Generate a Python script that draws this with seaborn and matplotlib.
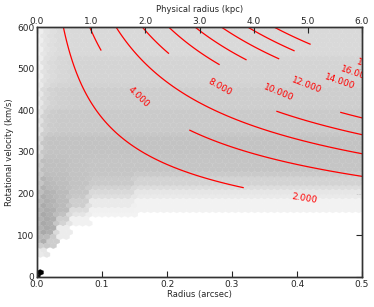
import numpy as np
import matplotlib
matplotlib.use('Agg')
import matplotlib.pyplot as plt
import seaborn as sns

# velocity bands (km/s) and radius bands (arcsec) used for the density map
vel_edges = [0, 15, 55, 75, 100, 125, 150, 165, 190, 215, 245, 290, 340, 400, 460, 530, 601]
rad_edges = [0.0, 0.005, 0.015, 0.03, 0.05, 0.08, 0.15, 0.501]

nan = np.nan
# grey level (0 = white, 1 = black) per velocity band, one list per radius band
shade_r0 = [1.0, nan, 0.15, 0.36, 0.38, 0.38, 0.38, 0.36, 0.34, 0.30, 0.28, 0.20, 0.15, 0.12, 0.10, 0.10]
shade_r1 = [nan, nan, 0.18, 0.42, 0.44, 0.44, 0.44, 0.43, 0.42, 0.40, 0.37, 0.33, 0.28, 0.24, 0.20, 0.18]
shade_r2 = [nan, nan, nan, 0.30, 0.42, 0.42, 0.42, 0.41, 0.40, 0.38, 0.36, 0.35, 0.31, 0.28, 0.24, 0.22]
shade_r3 = [nan, nan, nan, nan, 0.15, 0.30, 0.38, 0.38, 0.38, 0.37, 0.36, 0.35, 0.32, 0.29, 0.26, 0.24]
shade_r4 = [nan, nan, nan, nan, nan, 0.12, 0.22, 0.30, 0.34, 0.35, 0.35, 0.35, 0.32, 0.30, 0.27, 0.25]
shade_r5 = [nan, nan, nan, nan, nan, nan, 0.10, 0.16, 0.25, 0.32, 0.34, 0.35, 0.32, 0.30, 0.27, 0.25]
shade_r6 = [nan, nan, nan, nan, nan, nan, nan, 0.11, 0.18, 0.28, 0.34, 0.35, 0.32, 0.30, 0.27, 0.25]
shades = [shade_r0, shade_r1, shade_r2, shade_r3, shade_r4, shade_r5, shade_r6]

# enclosed-mass contours: label value per unit of v^2 r
mass_levels = [2, 4, 6, 8, 10, 12, 14, 16, 18]
mass_unit = 7290.0  # (km/s)^2 arcsec per contour unit
labelled_levels = [2, 4, 8, 10, 12, 14, 16, 18]
label_radius = [0.412, 0.156, 0.281, 0.371, 0.414, 0.466, 0.49, 0.515]

kpc_per_arcsec = 12.0

sns.set_style('white')
plt.rcParams['font.family'] = ['DejaVu Sans']

# sample the density bands on a fine grid and let hexbin average them
rr, vv = np.meshgrid(np.arange(0, 0.5, 0.002), np.arange(0, 600, 3.0))
rr, vv = rr.ravel(), vv.ravel()
ri = np.digitize(rr, rad_edges) - 1
vi = np.digitize(vv, vel_edges) - 1
table = np.array(shades)
cval = table[ri, vi]
keep = ~np.isnan(cval)

fig = plt.figure(figsize=(3.74, 3.07), dpi=100)
ax = fig.add_axes([0.099, 0.098, 0.869, 0.814])
ax.hexbin(rr[keep], vv[keep], C=cval[keep], reduce_C_function=np.mean,
          gridsize=50, extent=(0, 0.5, 0, 600), cmap='Greys', vmin=0, vmax=1,
          linewidths=0.2, edgecolors='face')

gr, gv = np.meshgrid(np.linspace(0.001, 0.56, 400), np.linspace(0, 660, 400))
mass = gv ** 2 * gr / mass_unit
cs = ax.contour(gr, gv, mass, levels=mass_levels, colors='red', linewidths=0.9)
pos = [(r, np.sqrt(l * mass_unit / r)) for l, r in zip(labelled_levels, label_radius)]
txts = ax.clabel(cs, fmt='%.3f', fontsize=6.5,
                 inline=True, inline_spacing=40, manual=pos)
for t in txts:
    t.set_clip_on(True)

ax.set_xlim(0, 0.5)
ax.set_ylim(0, 600)
ax.set_xticks(np.arange(0, 0.51, 0.1))
ax.set_yticks(np.arange(0, 601, 100))
ax.xaxis.set_major_formatter(matplotlib.ticker.FormatStrFormatter('%.1f'))
ax.set_xlabel('Radius (arcsec)', fontsize=6, labelpad=1)
ax.set_ylabel('Rotational velocity (km/s)', fontsize=6, labelpad=2)
ax.tick_params(direction='in', length=4, width=0.8, labelsize=6.5, pad=2,
               right=True, top=False)

ax2 = ax.twiny()
ax2.set_xlim(0, 0.5 * kpc_per_arcsec)
ax2.set_xticks(np.arange(0, 6.1, 1.0))
ax2.xaxis.set_major_formatter(matplotlib.ticker.FormatStrFormatter('%.1f'))
ax2.set_xlabel('Physical radius (kpc)', fontsize=6, labelpad=3)
ax2.tick_params(direction='in', length=4, width=0.8, labelsize=6.5, pad=1)

for a in (ax, ax2):
    for s in a.spines.values():
        s.set_linewidth(1.0)
        s.set_color('#333333')

fig.savefig('out.png', dpi=100)
